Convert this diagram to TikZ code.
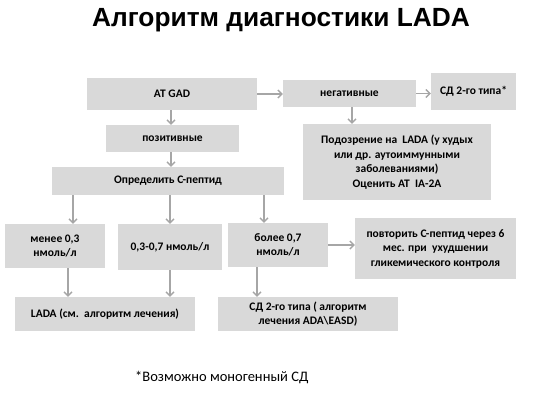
\documentclass[tikz,border=0pt]{standalone}
\usepackage{fontspec}
\setmainfont{Carlito}
\newfontfamily\titlefont{Liberation Sans}
\usetikzlibrary{positioning,arrows.meta}
\definecolor{boxgray}{HTML}{D9D9D9}
\definecolor{arrgray}{HTML}{A6A6A6}
\tikzset{
mybox/.style 2 args={
  rectangle,
  fill=boxgray,
  minimum width=#1,
  minimum height=#2,
  inner sep=2pt,
  align=center,
  font=\fontsize{11.5}{14.5}\selectfont\bfseries
  },
myarr/.style={
  ->,
  draw=arrgray,
  line width=1.4pt
  }
}

\begin{document}
\begin{tikzpicture}[x=1pt,y=-1pt,>={Straight Barb[length=4pt,width=8pt]}]
\useasboundingbox (0,0) rectangle (558,400);

\node[anchor=base,font=\titlefont\fontsize{26.3}{30}\selectfont\bfseries]
  (title) at (281,26) {Алгоритм диагностики LADA};

\node[mybox={170pt}{32pt}] (gad) at (172,94) {АТ GAD};
\node[mybox={133pt}{27pt}] (neg) at (349.5,93.5) {негативные};
\node[mybox={85pt}{37pt}] (sd2) at (473.5,91.5) {СД 2-го типа*};
\node[mybox={133pt}{27pt}] (pos) at (172.5,138.5) {позитивные};
\node[mybox={232pt}{28pt}] (cpep) at (168,181) {Определить С-пептид};
\node[mybox={188pt}{76pt}] (susp) at (397,162)
  {Подозрение на\ \ LADA (у худых\\или др. аутоиммунными\\заболеваниями)\\Оценить АТ\ \ IA-2A};

\node[mybox={100pt}{44pt}] (low) at (55,246) {менее 0,3\\нмоль/л};
\node[mybox={104pt}{46pt}] (mid) at (170,247) {0,3-0,7 нмоль/л};
\node[mybox={100pt}{44pt}] (high) at (278,245) {более 0,7\\нмоль/л};
\node[mybox={161pt}{61pt}] (rep) at (435.5,248.5)
  {повторить С-пептид через 6\\мес. при\ \ ухудшении\\гликемического контроля};

\node[mybox={180pt}{34pt}] (lada) at (105,314) {LADA (см.\ \ алгоритм лечения)};
\node[mybox={180pt}{34pt}] (sdt) at (308,314) {СД 2-го типа ( алгоритм\\лечения ADA\textbackslash EASD)};

\node[anchor=base west,font=\fontsize{14.5}{16}\selectfont,inner sep=0pt]
  (note) at (135,381) {*Возможно моногенный СД};

% connectors
\coordinate (lowin) at ([xshift=18pt]low.north);
\coordinate (lowout) at ([xshift=13pt]low.south);
\coordinate (highin) at ([xshift=-14pt]high.north);
\coordinate (highout) at ([xshift=-21pt]high.south);

\draw[myarr] (gad.east) -- (gad.east -| neg.west);
\draw[myarr] (neg.east) -- (neg.east -| sd2.west);
\draw[myarr] (gad.south -| 171,0) -- (pos.north -| 171,0);
\draw[myarr] (pos.south -| 171,0) -- (cpep.north -| 171,0);
\draw[myarr] (neg.south -| 352,0) -- (susp.north -| 352,0);

\draw[myarr] (lowin |- cpep.south) -- (lowin);
\draw[myarr] (mid.north |- cpep.south) -- (mid.north);
\draw[myarr] (highin |- cpep.south) -- (highin);

\draw[myarr] (lowout) -- (lowout |- lada.north);
\draw[myarr] (mid.south) -- (mid.south |- lada.north);
\draw[myarr] (highout) -- (highout |- sdt.north);
\draw[myarr] (high.east) -- (high.east -| rep.west);

\end{tikzpicture}
\end{document}
